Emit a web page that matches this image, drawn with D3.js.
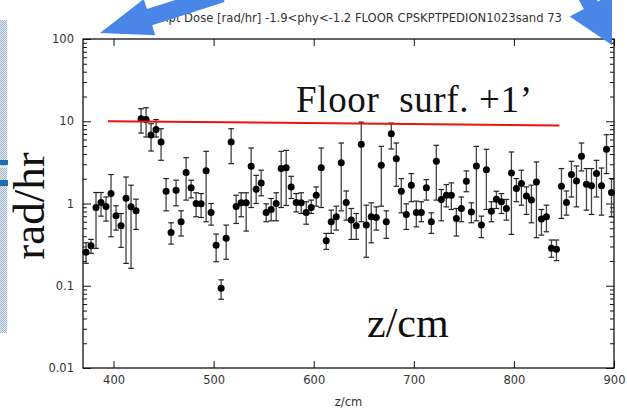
<!DOCTYPE html>
<html>
<head>
<meta charset="utf-8">
<script src="https://cdn.jsdelivr.net/npm/d3@7"></script>
<style>
  html, body { margin: 0; padding: 0; background: #fff; }
  svg { display: block; }
</style>
</head>
<body>
<svg id="chart" width="627" height="410"></svg>
<script>
// Bin centres along z (cm)
const zBins = [
  372.5, 377.5, 382.5, 387.5, 392.5, 397.5, 402.5, 407.5, 412.5, 417.5,
  422.5, 427.5, 432.5, 437.5, 442.5, 447.5, 452.5, 457.5, 462.5, 467.5,
  472.5, 477.5, 482.5, 487.5, 492.5, 497.5, 502.5, 507.5, 512.5, 517.5,
  522.5, 527.5, 532.5, 537.5, 542.5, 547.5, 552.5, 557.5, 562.5, 567.5,
  572.5, 577.5, 582.5, 587.5, 592.5, 597.5, 602.5, 607.5, 612.5, 617.5,
  622.5, 627.5, 632.5, 637.5, 642.5, 647.5, 652.5, 657.5, 662.5, 667.5,
  672.5, 677.5, 682.5, 687.5, 692.5, 697.5, 702.5, 707.5, 712.5, 717.5,
  722.5, 727.5, 732.5, 737.5, 742.5, 747.5, 752.5, 757.5, 762.5, 767.5,
  772.5, 777.5, 782.5, 787.5, 792.5, 797.5, 802.5, 807.5, 812.5, 817.5,
  822.5, 827.5, 832.5, 837.5, 842.5, 847.5, 852.5, 857.5, 862.5, 867.5,
  872.5, 877.5, 882.5, 887.5, 892.5, 897.5
];

// Prompt dose per bin (rad/hr)
const dose = [
  0.255, 0.307, 0.894, 1.03, 0.92, 1.32, 0.709, 0.536, 1.16, 0.91,
  0.815, 10.7, 10.5, 6.80, 7.96, 5.59, 1.41, 0.445, 1.45, 0.60,
  2.38, 1.55, 1.00, 0.99, 2.51, 0.778, 0.31, 0.093, 0.377, 5.59,
  0.92, 1.02, 1.02, 2.84, 1.49, 1.78, 0.778, 0.846, 1.00, 2.66,
  2.73, 1.59, 1.03, 1.02, 0.778, 0.894, 1.26, 2.73, 0.353, 0.60,
  0.69, 3.14, 1.03, 0.628, 0.536, 5.24, 0.546, 0.69, 0.676, 2.92,
  0.60, 7.05, 3.51, 1.41, 0.736, 1.67, 0.778, 0.778, 1.55, 0.60,
  3.26, 1.12, 1.26, 1.26, 0.658, 0.87, 1.87, 0.79, 2.86, 0.546,
  2.58, 0.807, 1.13, 1.05, 0.87, 2.35, 1.52, 1.75, 1.23, 1.10,
  1.83, 0.646, 0.69, 0.285, 0.277, 1.62, 1.03, 2.25, 1.88, 3.75,
  1.72, 1.64, 2.31, 1.64, 4.56, 1.36
];

// Lower end of each error bar
const doseLo = [
  0.1875, 0.248, 0.285, 0.702, 0.611, 0.394, 0.475, 0.293, 0.187, 0.163,
  0.484, 7.19, 6.43, 4.35, 6.43, 3.35, 0.815, 0.321, 0.937, 0.402,
  1.10, 1.17, 0.69, 0.676, 0.60, 0.546, 0.196, 0.0686, 0.21, 3.05,
  0.572, 0.69, 0.462, 0.894, 1.00, 1.24, 0.60, 0.616, 0.616, 0.894,
  0.946, 1.15, 0.79, 0.756, 0.56, 0.756, 0.928, 0.894, 0.277, 0.433,
  0.475, 0.815, 0.628, 0.366, 0.366, 0.60, 0.222, 0.333, 0.475, 0.928,
  0.377, 4.60, 1.62, 0.77, 0.484, 1.05, 0.52, 0.60, 1.10, 0.433,
  1.10, 0.616, 0.91, 0.846, 0.402, 0.60, 1.39, 0.583, 0.616, 0.384,
  0.846, 0.60, 0.87, 0.756, 0.628, 0.421, 1.05, 0.954, 0.736, 0.583,
  0.384, 0.413, 0.453, 0.222, 0.202, 0.658, 0.722, 1.20, 0.91, 2.49,
  0.83, 0.736, 1.20, 0.722, 2.31, 0.69
];

// Upper end of each error bar
const doseHi = [
  0.333, 0.366, 1.36, 1.36, 1.20, 2.25, 0.937, 0.756, 2.10, 1.67,
  1.13, 14.2, 14.6, 9.33, 10.5, 8.11, 2.01, 0.583, 1.92, 0.815,
  3.61, 1.92, 1.35, 1.32, 4.31, 1.00, 0.425, 0.118, 0.546, 8.11,
  1.26, 1.35, 1.35, 4.73, 2.20, 2.54, 0.99, 1.15, 1.35, 4.31,
  4.43, 2.14, 1.32, 1.35, 1.05, 1.10, 1.59, 4.73, 0.433, 0.83,
  0.928, 5.44, 1.42, 0.87, 0.756, 9.77, 0.954, 1.02, 0.91, 4.95,
  0.815, 9.5, 5.44, 2.01, 0.99, 2.31, 1.07, 1.05, 1.95, 0.77,
  5.1, 1.48, 1.70, 1.78, 0.87, 1.20, 2.49, 1.02, 4.95, 0.702,
  4.56, 1.05, 1.41, 1.32, 1.12, 4.23, 2.01, 2.54, 1.59, 1.67,
  3.2, 0.846, 0.954, 0.36, 0.36, 2.66, 1.42, 3.26, 2.86, 5.44,
  2.66, 2.66, 3.35, 2.7, 6.86, 2.01
];

// Reference level drawn across the plot (floor surface + 1 ft)
const floorZ = [394.5, 845.5];
const floorDose = [10.0, 8.9];

// Tick labels
const xTicks = [400, 500, 600, 700, 800, 900];
const yTicks = [0.01, 0.1, 1, 10, 100];

const titleText = "Prompt Dose [rad/hr] -1.9<phy<-1.2 FLOOR CPSKPTPEDION1023sand 73";

const svg = d3.select("#chart");
const frame = { left: 83, right: 614, top: 39, bottom: 368 };

const x = d3.scaleLinear().domain([369.5, 900]).range([frame.left, frame.right]);
const y = d3.scaleLog().domain([0.01, 100]).range([frame.bottom, frame.top]);

// Minor log ticks 2..9 in each decade
const yMinor = [];
yTicks.slice(0, -1).forEach(d => { for (let m = 2; m <= 9; m++) yMinor.push(d * m); });

// Title
svg.append("text")
  .attr("x", 562).attr("y", 22)
  .attr("text-anchor", "end")
  .attr("font-family", "DejaVu Sans, sans-serif")
  .attr("font-size", 11.6)
  .attr("fill", "#333")
  .text(titleText);

// Axes (ticks point inwards, on all four sides)
const fmtY = d => String(d);
const axisText = g => g.selectAll("text")
  .attr("font-family", "DejaVu Sans, sans-serif")
  .attr("font-size", 11.5)
  .attr("fill", "#333");
const noDomain = g => g.select(".domain").remove();

svg.append("g")
  .attr("transform", `translate(0,${frame.bottom})`)
  .call(d3.axisBottom(x).tickValues(xTicks).tickSize(-7).tickPadding(8).tickFormat(d3.format("d")))
  .call(noDomain).call(axisText);
svg.append("g")
  .attr("transform", `translate(0,${frame.top})`)
  .call(d3.axisTop(x).tickValues(xTicks).tickSize(-7).tickFormat(""))
  .call(noDomain);

svg.append("g")
  .attr("transform", `translate(${frame.left},0)`)
  .call(d3.axisLeft(y).tickValues(yTicks).tickSize(-8).tickPadding(9).tickFormat(fmtY))
  .call(noDomain).call(axisText);
svg.append("g")
  .attr("transform", `translate(${frame.left},0)`)
  .call(d3.axisLeft(y).tickValues(yMinor).tickSize(-4).tickFormat(""))
  .call(noDomain);
svg.append("g")
  .attr("transform", `translate(${frame.right},0)`)
  .call(d3.axisRight(y).tickValues(yTicks).tickSize(-8).tickFormat(""))
  .call(noDomain);
svg.append("g")
  .attr("transform", `translate(${frame.right},0)`)
  .call(d3.axisRight(y).tickValues(yMinor).tickSize(-4).tickFormat(""))
  .call(noDomain);

svg.selectAll(".tick line").attr("stroke", "#111");

// Plot frame
svg.append("rect")
  .attr("x", frame.left).attr("y", frame.top)
  .attr("width", frame.right - frame.left).attr("height", frame.bottom - frame.top)
  .attr("fill", "none").attr("stroke", "#111").attr("stroke-width", 1.3);

// X-axis title
svg.append("text")
  .attr("x", (frame.left + frame.right) / 2).attr("y", 406)
  .attr("text-anchor", "middle")
  .attr("font-family", "DejaVu Sans, sans-serif")
  .attr("font-size", 11.5)
  .attr("fill", "#333")
  .text("z/cm");

// Points with error bars
const pts = zBins.map((z, i) => ({ z, v: dose[i], lo: doseLo[i], hi: doseHi[i] }));
const marks = svg.append("g");
const capW = 2.8;
const eb = marks.selectAll("g.eb").data(pts).join("g").attr("class", "eb");
eb.append("line")
  .attr("x1", d => x(d.z)).attr("x2", d => x(d.z))
  .attr("y1", d => y(d.lo)).attr("y2", d => y(d.hi))
  .attr("stroke", "#444").attr("stroke-width", 1.3);
eb.append("line")
  .attr("x1", d => x(d.z) - capW).attr("x2", d => x(d.z) + capW)
  .attr("y1", d => y(d.lo)).attr("y2", d => y(d.lo))
  .attr("stroke", "#222").attr("stroke-width", 1.2);
eb.append("line")
  .attr("x1", d => x(d.z) - capW).attr("x2", d => x(d.z) + capW)
  .attr("y1", d => y(d.hi)).attr("y2", d => y(d.hi))
  .attr("stroke", "#222").attr("stroke-width", 1.2);
eb.append("circle")
  .attr("cx", d => x(d.z)).attr("cy", d => y(d.v))
  .attr("r", 3.5).attr("fill", "#000");

// Floor reference line
svg.append("line")
  .attr("x1", x(floorZ[0])).attr("y1", y(floorDose[0]))
  .attr("x2", x(floorZ[1])).attr("y2", y(floorDose[1]))
  .attr("stroke", "#ee1111").attr("stroke-width", 2);

// Annotations
const serif = "Liberation Serif, 'DejaVu Serif', serif";
svg.append("text")
  .attr("x", 296).attr("y", 112)
  .attr("font-family", serif).attr("font-size", 37)
  .attr("fill", "#111")
  .attr("textLength", 236)
  .attr("lengthAdjust", "spacing")
  .style("white-space", "pre")
  .text("Floor  surf. +1\u2019");

svg.append("text")
  .attr("x", 367).attr("y", 337)
  .attr("font-family", serif).attr("font-size", 42)
  .attr("fill", "#111")
  .text("z/cm");

svg.append("text")
  .attr("transform", "translate(44,206) rotate(-90)")
  .attr("text-anchor", "middle")
  .attr("font-family", serif).attr("font-size", 45)
  .attr("fill", "#111")
  .text("rad/hr");

// Textured strip on the left edge
const defs = svg.append("defs");
const pat = defs.append("pattern")
  .attr("id", "dots").attr("width", 2).attr("height", 2)
  .attr("patternUnits", "userSpaceOnUse");
pat.append("rect").attr("width", 2).attr("height", 2).attr("fill", "#e4ebf2");
pat.append("rect").attr("width", 1).attr("height", 1).attr("fill", "#9fb6cc");
pat.append("rect").attr("x", 1).attr("y", 1).attr("width", 1).attr("height", 1).attr("fill", "#9fb6cc");
svg.append("rect").attr("x", 0).attr("y", 20).attr("width", 7).attr("height", 313).attr("fill", "url(#dots)");
svg.append("rect").attr("x", 0).attr("y", 160).attr("width", 8).attr("height", 5).attr("fill", "#1f6fb0");
svg.append("rect").attr("x", 0).attr("y", 166).attr("width", 8).attr("height", 2).attr("fill", "#dfeee0");
svg.append("rect").attr("x", 0).attr("y", 180).attr("width", 8).attr("height", 6).attr("fill", "#1f6fb0");

// Pointer arrows
function arrow(tail, tip, shaftHalf, headLen, headHalf) {
  const dx = tip[0] - tail[0], dy = tip[1] - tail[1];
  const L = Math.hypot(dx, dy), ux = dx / L, uy = dy / L, nx = -uy, ny = ux;
  const bx = tip[0] - ux * headLen, by = tip[1] - uy * headLen;
  const p = [
    [tail[0] + nx * shaftHalf, tail[1] + ny * shaftHalf],
    [bx + nx * shaftHalf, by + ny * shaftHalf],
    [bx + nx * headHalf, by + ny * headHalf],
    tip,
    [bx - nx * headHalf, by - ny * headHalf],
    [bx - nx * shaftHalf, by - ny * shaftHalf],
    [tail[0] - nx * shaftHalf, tail[1] - ny * shaftHalf]
  ];
  return "M" + p.map(q => q.join(",")).join("L") + "Z";
}
svg.append("path").attr("d", arrow([222, -6], [100, 33], 8.5, 52, 19)).attr("fill", "#4a86e8");
svg.append("path").attr("d", arrow([572, -30], [612, 45], 8, 45, 24)).attr("fill", "#4a86e8");
</script>
</body>
</html>
